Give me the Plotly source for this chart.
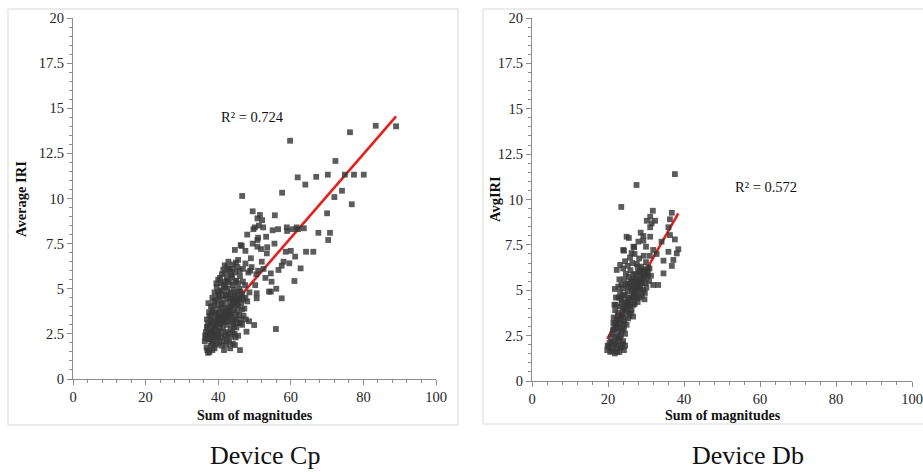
import plotly.graph_objects as go

# (sum of magnitudes, average IRI) readings per device
cp_points = [
    (37.2, 1.45), (37.6, 1.5), (37.0, 1.6), (36.8, 1.75), (38.0, 1.85), (39.5, 1.9), (40.3, 2.0),
    (41.0, 1.85), (43.3, 1.7), (44.6, 1.88), (46.0, 1.6), (36.3, 2.1), (36.6, 2.25), (37.4, 2.2),
    (38.3, 2.05), (38.8, 2.3), (39.6, 2.15), (40.8, 2.3), (41.5, 2.1), (42.4, 2.2), (43.5, 2.35),
    (44.8, 2.3), (45.5, 2.4), (47.8, 2.62), (49.9, 2.99),
    (36.6, 2.6), (37.0, 2.8), (37.5, 2.55), (37.8, 3.0), (38.2, 2.7), (38.6, 3.2), (39.0, 2.5),
    (39.3, 2.9), (39.7, 3.3), (40.1, 2.65), (40.5, 3.05), (40.9, 3.4), (41.3, 2.8), (41.7, 3.15),
    (42.1, 2.6), (42.5, 3.0), (42.9, 3.35), (43.4, 2.75), (43.8, 3.2), (44.3, 2.9), (44.8, 3.4),
    (45.4, 3.1), (46.2, 3.3), (47.0, 3.5), (48.5, 3.2), (36.9, 3.3), (38.0, 3.45), (39.2, 3.55),
    (37.5, 3.7), (38.0, 4.0), (38.5, 3.8), (38.9, 4.3), (39.4, 3.7), (39.8, 4.1), (40.2, 3.6),
    (40.6, 4.4), (41.0, 3.9), (41.4, 4.2), (41.8, 3.7), (42.2, 4.45), (42.6, 3.95), (43.0, 4.25),
    (43.4, 3.65), (43.9, 4.1), (44.4, 3.8), (44.9, 4.35), (45.5, 4.0), (46.3, 4.2), (47.2, 3.9),
    (48.0, 4.3), (38.4, 4.5), (40.0, 4.55),
    (39.0, 4.8), (39.6, 5.1), (40.2, 4.7), (40.7, 5.3), (41.2, 4.9), (41.7, 5.4), (42.1, 4.65),
    (42.6, 5.0), (43.1, 5.35), (43.5, 4.8), (44.0, 5.2), (44.5, 4.6), (45.0, 5.45), (45.8, 5.0),
    (46.6, 4.7), (47.4, 5.2), (48.6, 4.8), (40.0, 5.5),
    (41.0, 5.8), (41.8, 6.3), (42.4, 5.6), (43.0, 6.1), (43.6, 5.75), (44.1, 6.35), (44.7, 5.9),
    (45.3, 6.2), (46.0, 5.7), (46.8, 6.1), (47.5, 6.4), (48.3, 5.9), (49.2, 6.2), (42.8, 6.5),
    (45.5, 6.6),
    (37.9, 2.4), (38.5, 2.6), (39.1, 2.75), (39.8, 2.45), (40.4, 2.85), (41.0, 3.1), (41.6, 3.45),
    (42.3, 3.5), (43.1, 3.8), (43.7, 3.55), (44.2, 4.4), (44.6, 3.3), (45.1, 3.7), (45.8, 3.55),
    (46.5, 3.85), (45.9, 4.5), (45.2, 4.8), (44.3, 4.95), (43.3, 4.5), (42.8, 4.7), (42.0, 5.1),
    (41.4, 4.6), (40.9, 4.15), (40.3, 3.85), (39.9, 3.45), (39.3, 3.15), (38.7, 2.9), (38.1, 3.25),
    (37.6, 3.5), (37.2, 3.1), (37.8, 2.2), (38.6, 1.95), (39.2, 2.35), (40.0, 2.3), (40.7, 2.55),
    (41.9, 2.4), (42.7, 2.5), (43.9, 2.6), (44.5, 2.5), (45.0, 2.85), (46.6, 3.0), (47.6, 3.3),
    (47.5, 4.5), (46.9, 4.4), (46.1, 4.85), (45.4, 5.3), (44.7, 5.4), (43.8, 5.65), (43.3, 5.95),
    (42.6, 5.45), (42.0, 5.9), (41.5, 5.2), (40.6, 4.9), (39.9, 4.8), (39.3, 4.4), (38.8, 4.05),
    (38.2, 3.65), (41.1, 3.55), (42.4, 3.2), (43.6, 4.45), (44.1, 3.05), (45.3, 4.3), (46.0, 3.1),
    (46.8, 5.4), (45.9, 6.0), (44.9, 6.45), (43.9, 6.1), (42.5, 6.2), (41.4, 6.05), (40.5, 5.6),
    (39.5, 5.3), (37.3, 4.2), (36.9, 2.9), (36.4, 2.4), (37.0, 2.45), (38.4, 1.6), (39.0, 1.7),
    (42.2, 1.9), (43.0, 2.05), (41.6, 1.6), (44.0, 1.95),
    (40.8, 3.35), (41.9, 3.6), (42.7, 3.75), (43.5, 4.0), (44.3, 4.2), (45.0, 4.1), (45.7, 4.45),
    (41.3, 3.25), (42.0, 3.9), (44.6, 4.65), (43.2, 3.45), (40.2, 3.2),
    (44.6, 7.15), (46.2, 7.42), (46.6, 10.14), (49.0, 6.69), (49.5, 9.29), (50.8, 8.9), (51.5, 9.09),
    (52.1, 8.8), (55.6, 9.07), (50.1, 8.4), (52.4, 8.4), (58.9, 8.4), (61.6, 8.4), (57.6, 10.32),
    (59.8, 13.2), (61.9, 11.17), (64.0, 10.77), (50.8, 7.33), (50.8, 7.7), (53.2, 7.88), (53.4, 6.96),
    (54.5, 5.85), (54.7, 5.39), (54.5, 4.84), (54.0, 4.84), (50.6, 4.47), (50.6, 4.75), (57.5, 4.47),
    (55.9, 2.77), (58.6, 7.05), (59.6, 6.41), (61.2, 6.78), (62.7, 6.13), (61.0, 5.43), (64.2, 7.05),
    (66.2, 7.05), (67.6, 8.1), (70.8, 8.1), (70.3, 7.7), (63.6, 8.35), (70.0, 9.18), (72.0, 10.08),
    (74.1, 10.43), (76.8, 9.68), (67.0, 11.2), (70.2, 11.32), (74.9, 11.32), (77.4, 11.32),
    (80.1, 11.32), (72.3, 12.08), (76.3, 13.67), (83.4, 14.03), (89.0, 14.0),
    (52.0, 6.5), (51.0, 6.0), (53.0, 5.6), (50.2, 5.2), (51.8, 7.2), (56.6, 6.04), (57.5, 6.28),
    (55.0, 8.24), (56.5, 8.3), (59.0, 8.2), (60.5, 8.3), (62.0, 8.3), (55.5, 7.5), (53.5, 7.3),
    (49.5, 7.5), (48.0, 8.0), (47.5, 7.1), (48.8, 6.0), (50.5, 5.8), (52.5, 6.1), (56.0, 5.0),
    (58.0, 6.5), (60.0, 7.1), (51.0, 7.83), (46.5, 7.37), (49.7, 8.3), (51.2, 8.5),
]

db_points = [
    (19.8, 1.7), (20.2, 1.9), (20.6, 1.6), (21.0, 1.8), (21.4, 2.0), (21.8, 1.52), (22.2, 1.75),
    (22.6, 1.95), (23.0, 1.6), (23.4, 1.85), (23.8, 2.05), (24.2, 1.7), (24.5, 1.95), (20.4, 2.1),
    (21.6, 2.15), (22.9, 2.2), (24.0, 2.2), (19.9, 1.95), (21.2, 1.65), (22.4, 1.6), (23.7, 1.9),
    (20.9, 2.15), (22.0, 2.05),
    (21.2, 2.6), (21.6, 2.9), (22.0, 2.45), (22.3, 3.1), (22.7, 2.7), (23.0, 3.0), (23.4, 2.5),
    (23.8, 2.85), (24.1, 3.15), (24.5, 2.6), (21.4, 3.2), (22.5, 2.35), (22.4, 2.9), (23.6, 2.75),
    (23.1, 2.4), (24.2, 2.9), (21.3, 2.8), (20.8, 2.4),
    (21.5, 3.5), (21.9, 3.9), (22.3, 3.4), (22.7, 3.75), (23.1, 4.1), (23.5, 3.55), (23.9, 3.95),
    (24.3, 3.3), (24.7, 3.8), (25.1, 4.15), (25.6, 3.6), (26.2, 3.9), (26.6, 3.55), (22.0, 4.2),
    (23.6, 4.3), (22.9, 3.35), (23.3, 3.2), (23.7, 3.65), (24.0, 3.5), (24.4, 4.0), (24.6, 4.2),
    (25.0, 3.9), (26.0, 3.75), (25.3, 3.45), (24.9, 3.1), (22.6, 3.6), (21.7, 4.2), (21.9, 3.2),
    (22.8, 4.6), (23.2, 4.9), (23.6, 4.45), (24.0, 5.1), (24.4, 4.7), (24.8, 4.35), (25.2, 4.95),
    (25.6, 4.6), (26.0, 5.15), (26.4, 4.45), (26.8, 4.85), (27.2, 5.1), (27.6, 4.55), (28.0, 4.9),
    (28.4, 5.2), (28.9, 4.7), (29.3, 5.0), (21.8, 5.07), (25.0, 4.2), (27.0, 4.25), (29.6, 4.5),
    (25.3, 4.45), (25.4, 4.3), (25.8, 4.1), (26.1, 4.6), (26.3, 4.95), (26.9, 4.6), (27.3, 4.75),
    (28.3, 4.6), (27.8, 4.35), (26.7, 4.2), (29.7, 4.85), (23.3, 4.6), (24.1, 4.75), (22.1, 4.6),
    (24.3, 5.6), (24.7, 5.9), (25.1, 5.35), (25.5, 5.75), (25.9, 6.1), (26.3, 5.5), (26.7, 5.85),
    (27.1, 5.3), (27.5, 5.65), (27.9, 6.0), (28.3, 5.45), (28.7, 5.8), (29.1, 5.55), (29.5, 6.05),
    (29.9, 5.4), (30.4, 5.75), (30.8, 5.5), (31.9, 5.29), (33.2, 5.29), (34.6, 5.93), (23.5, 5.3),
    (22.3, 6.12), (24.0, 6.2), (26.5, 5.25), (27.4, 5.45), (27.7, 5.2), (27.9, 5.6), (28.1, 5.35),
    (28.5, 5.05), (28.6, 5.95), (28.9, 5.4), (29.2, 6.15), (29.4, 5.7), (29.8, 5.85), (30.2, 6.1),
    (30.5, 5.95), (30.1, 5.15), (24.6, 5.3), (25.4, 5.2), (25.9, 5.5), (26.6, 5.6), (27.2, 5.9),
    (28.4, 6.1), (30.9, 6.2), (31.3, 5.8), (23.0, 5.6), (22.7, 5.2),
    (23.2, 6.4), (24.5, 6.6), (25.2, 6.35), (25.8, 6.8), (26.4, 6.5), (27.0, 7.0), (27.6, 6.45),
    (28.2, 6.75), (28.8, 6.3), (29.4, 6.9), (30.0, 6.55), (30.6, 6.25), (31.0, 6.9), (36.8, 6.34),
    (37.2, 6.67), (34.6, 6.63), (38.1, 7.03), (35.9, 7.12), (38.5, 7.26), (24.2, 7.18), (26.2, 7.05),
    (27.8, 6.3),
    (26.9, 7.37), (28.0, 7.68), (25.5, 7.88), (29.3, 7.99), (29.3, 7.73), (31.1, 7.95), (28.6, 8.17),
    (31.9, 7.22), (34.1, 7.68), (36.3, 8.04), (37.6, 7.8), (35.9, 8.47), (36.3, 8.91), (36.8, 9.27),
    (31.1, 9.05), (30.2, 8.83), (32.4, 8.83), (31.5, 8.69), (31.1, 8.47), (31.8, 9.38), (23.5, 9.59),
    (27.5, 10.8), (37.6, 11.4), (24.9, 7.95), (26.7, 7.4), (24.0, 7.22), (30.0, 7.4), (32.8, 7.0),
]

cp_sum = [p[0] for p in cp_points]
cp_iri = [p[1] for p in cp_points]
db_sum = [p[0] for p in db_points]
db_iri = [p[1] for p in db_points]

# linear trend lines (slope, intercept) and their R² labels
cp_trend = (0.232, -6.1)
db_trend = (0.37, -5.01)
cp_r2 = "R² = 0.724"
db_r2 = "R² = 0.572"

panel_titles = ["Device Cp", "Device Db"]
y_titles = ["Average IRI", "AvgIRI"]
x_title = "Sum of magnitudes"

SERIF = "Liberation Serif"
MARKER = dict(symbol="square", size=5.8, color="#383838", opacity=0.82, line=dict(width=0))
RED = "#e3211c"
AXIS_GRAY = "#8c8c8c"

fig = go.Figure()

def add_panel(xs, ys, trend, xa, ya):
    lo, hi = min(xs), max(xs)
    m, b = trend
    # trend line sits beneath the markers
    fig.add_trace(go.Scatter(x=[lo, hi], y=[m * lo + b, m * hi + b], mode="lines",
                             line=dict(color=RED, width=2.6), xaxis=xa, yaxis=ya,
                             showlegend=False, hoverinfo="skip"))
    fig.add_trace(go.Scatter(x=xs, y=ys, mode="markers", marker=MARKER,
                             xaxis=xa, yaxis=ya, showlegend=False))

add_panel(cp_sum, cp_iri, cp_trend, "x", "y")
add_panel(db_sum, db_iri, db_trend, "x2", "y2")

W, H = 923, 472
TICKFONT = dict(family=SERIF, size=14.5, color="#262626")

def xaxis(domain, anchor):
    return dict(domain=domain, anchor=anchor, range=[0, 100], dtick=20, tick0=0,
                automargin=False, showgrid=False, zeroline=False,
                showline=True, linecolor=AXIS_GRAY, linewidth=1,
                ticks="outside", ticklen=5, tickcolor=AXIS_GRAY,
                minor=dict(dtick=4, ticks="outside", ticklen=3, tickcolor=AXIS_GRAY),
                tickfont=TICKFONT)

def yaxis(domain, anchor):
    return dict(domain=domain, anchor=anchor, range=[0, 20], dtick=2.5, tick0=0,
                automargin=False, showgrid=False, zeroline=False,
                showline=True, linecolor=AXIS_GRAY, linewidth=1,
                ticks="outside", ticklen=5, tickcolor=AXIS_GRAY,
                minor=dict(dtick=0.5, ticks="outside", ticklen=3, tickcolor=AXIS_GRAY),
                tickfont=TICKFONT)

fig.update_layout(
    width=W, height=H, margin=dict(l=0, r=0, t=0, b=0, autoexpand=False),
    paper_bgcolor="white", plot_bgcolor="white", showlegend=False,
    xaxis=xaxis([73 / W, 436 / W], "y"),
    yaxis=yaxis([1 - 379 / H, 1 - 18 / H], "x"),
    xaxis2=xaxis([532 / W, 912 / W], "y2"),
    yaxis2=yaxis([1 - 381 / H, 1 - 18 / H], "x2"),
)

# chart-area frames
for x0, x1, y0, y1 in [(8, 458, 9, 425), (483, 930, 9, 424)]:
    fig.add_shape(type="rect", xref="paper", yref="paper",
                  x0=x0 / W, x1=x1 / W, y0=1 - y1 / H, y1=1 - y0 / H,
                  line=dict(color="#d9d9d9", width=1), fillcolor="rgba(0,0,0,0)", layer="below")

def note(text, px, py, size, bold=False, angle=0, yanchor="middle"):
    fig.add_annotation(text=f"<b>{text}</b>" if bold else text, xref="paper", yref="paper",
                       x=px / W, y=1 - py / H, showarrow=False, textangle=angle,
                       xanchor="center", yanchor=yanchor,
                       font=dict(family=SERIF, size=size, color="#111"))

note(x_title, 255, 415, 14, bold=True)
note(x_title, 723, 415, 14, bold=True)
note(y_titles[0], 21, 199, 14.5, bold=True, angle=-90)
note(y_titles[1], 495, 199, 14.5, bold=True, angle=-90)
note(cp_r2, 252, 117, 14.5)
note(db_r2, 766, 187, 14.5)
note(panel_titles[0], 265, 472, 26, yanchor="bottom")
note(panel_titles[1], 748, 472, 26, yanchor="bottom")

fig.write_html("out.html")
